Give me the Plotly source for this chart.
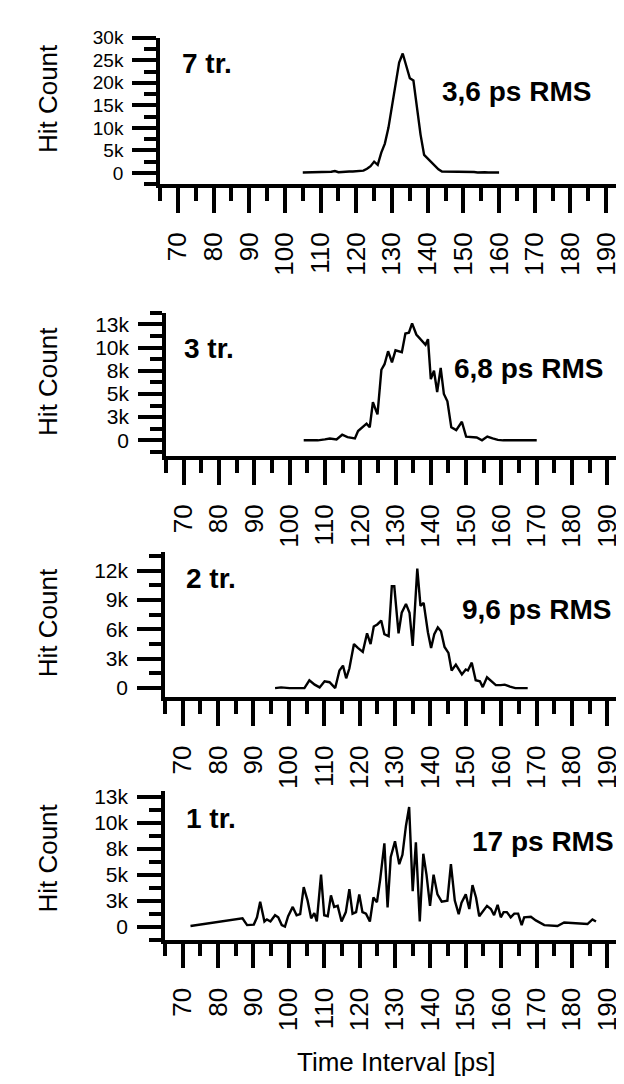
import plotly.graph_objects as go

# ---------------- data ----------------
x_ticks = [70, 80, 90, 100, 110, 120, 130, 140, 150, 160, 170, 180, 190]
x_tick_labels = ["70", "80", "90", "100", "110", "120", "130", "140", "150", "160", "170", "180", "190"]

panel_labels = ["7 tr.", "3 tr.", "2 tr.", "1 tr."]
rms_labels = ["3,6 ps RMS", "6,8 ps RMS", "9,6 ps RMS", "17 ps RMS"]

# 7 tr.
t7 = [105, 106, 107, 108, 109, 110, 111, 112, 113, 114, 115, 116, 117, 118, 119, 120,
      121, 122, 123, 124, 125, 126, 127, 128, 129, 130, 131, 132, 133, 134, 135, 136,
      137, 138, 139, 140, 141, 142, 143, 144, 145, 146, 147, 148, 149, 150, 151, 152,
      153, 154, 155, 156, 157, 158, 159, 160]
c7 = [100, 100, 100, 100, 120, 150, 150, 200, 250, 400, 150, 200, 300, 300, 300, 350,
      400, 500, 900, 1500, 2500, 1800, 4500, 6500, 10000, 15000, 20000, 24500, 26500, 24000, 21000, 20500,
      14000, 8500, 4000, 3200, 2200, 1500, 800, 300, 300, 250, 300, 250, 200, 250, 200, 150,
      200, 100, 200, 150, 100, 150, 100, 100]

# 3 tr.
t3 = [104, 106, 108, 110, 111.4, 113.3, 114.9, 116.4, 118.5, 119.4, 120.8, 121.8, 122.7, 123.6,
      124.9, 126, 126.9, 127.9, 129, 130, 131.8, 132.8, 133.8, 134.7, 135.9, 137.3, 138.5, 139.2,
      140, 140.9, 141.8, 142.8, 143.7, 144.7, 145.8, 147.2, 148.8, 150, 151.5, 153, 154.5, 156,
      157.5, 159, 160.5, 162, 164, 166, 168, 170]
c3 = [0, 0, 0, 100, 200, 100, 600, 350, 200, 1000, 1500, 1800, 1400, 4100,
      2800, 7600, 8200, 9600, 8400, 9700, 9500, 11500, 11600, 12600, 11400, 10800, 10300, 10900,
      6600, 7500, 5200, 7800, 5000, 4200, 1400, 1100, 2000, 400, 350, 300, 0, 400,
      200, 50, 0, 0, 0, 0, 0, 0]

# 2 tr.
t2 = [96.1, 97.8, 100.2, 104.4, 105.8, 107.3, 108.7, 110.1, 111.5, 113.1, 114.3, 115.3, 116.2,
      117.1, 118.4, 119.5, 120.9, 122.1, 123.1, 124, 125, 126.1, 127, 128.2, 129.1, 129.8, 131,
      131.9, 133.1, 134.1, 135, 136.3, 137.2, 138.1, 139.3, 140.2, 141.1, 142.1, 143, 144, 145.1,
      146, 147.2, 148.9, 150, 150.6, 151.7, 152.8, 154, 154.8, 156, 157.4, 158.5, 159.9, 161,
      162.5, 164, 167.5]
c2 = [0, 70, 0, 0, 800, 350, 70, 700, 600, 0, 1800, 2300, 1000,
      2000, 4500, 4100, 3700, 5600, 4500, 6300, 6500, 6900, 5500, 5300, 10400, 10400, 5600,
      7700, 8600, 7700, 4300, 12200, 8400, 8700, 5700, 4100, 5500, 6200, 5800, 4200, 3600,
      1800, 2400, 1400, 1900, 1800, 2600, 800, 700, 100, 1100, 600, 300, 300, 350,
      150, 0, 0]

# 1 tr.
t1 = [72.2, 86.9, 88.2, 90.1, 91, 91.9, 93.1, 93.8, 94.8, 96.1, 97, 98, 98.9, 99.8, 101.1,
      102.2, 103.2, 104.2, 105.3, 106.3, 107.2, 107.9, 109.1, 110, 111, 111.9, 112.8, 113.8,
      114.9, 116.1, 117.1, 118, 119, 119.9, 120.8, 121.8, 122.9, 123.9, 124.9, 125.8, 127,
      127.9, 128.8, 130, 131.2, 132.1, 133.1, 134, 135, 135.9, 137, 138, 138.9, 139.9, 140.9,
      142, 143.2, 144.8, 145.8, 146.9, 148, 148.8, 150, 151, 151.9, 152.9, 153.8, 154.7, 156,
      157.1, 158, 159, 159.9, 160.7, 161.6, 162.7, 163.7, 164.8, 165.8, 166.5, 168.4, 169.8,
      172.2, 175.9, 177.8, 184.4, 185.8, 186.8]
c1 = [60, 800, 150, 200, 900, 2400, 500, 700, 500, 1100, 900, 150, 0, 1000, 1900,
      1100, 1200, 3800, 2500, 800, 1300, 500, 5000, 1100, 1000, 3000, 1900, 2000,
      500, 1400, 3600, 1250, 1400, 3100, 1400, 1250, 500, 2800, 2350, 4500, 8000,
      1850, 6700, 8200, 6000, 6900, 9700, 11500, 3400, 8100, 500, 7000, 5000, 2000, 5000,
      3100, 2400, 2500, 6000, 2500, 1200, 2300, 3100, 1700, 4000, 2800, 1000, 1400, 2000,
      1700, 1100, 2100, 900, 1400, 1400, 900, 1250, 1250, 150, 900, 950, 600,
      150, 60, 400, 250, 700, 500]

y_vals_1 = [0, 5000, 10000, 15000, 20000, 25000, 30000]
y_text_1 = ["0", "5k", "10k", "15k", "20k", "25k", "30k"]
y_vals_2 = [0, 2500, 5000, 7500, 10000, 12500]
y_text_2 = ["0", "3k", "5k", "8k", "10k", "13k"]
y_vals_3 = [0, 3000, 6000, 9000, 12000]
y_text_3 = ["0", "3k", "6k", "9k", "12k"]

series = [(t7, c7), (t3, c3), (t2, c2), (t1, c1)]
yticks = [(y_vals_1, y_text_1, 2500), (y_vals_2, y_text_2, 1250),
          (y_vals_3, y_text_3, 1500), (y_vals_2, y_text_2, 1250)]
y_ranges = [[-2500, 30000], [-1700, 13750], [-950, 13900], [-1250, 13000]]

# ---------------- layout geometry (pixels) ----------------
W, H = 624, 1084
px_x = [(152, 616), (158, 617), (157, 617), (157, 617)]
px_y = [(20, 168), (298, 443), (540, 687), (782, 932)]
lab_pos = [(172, 46), (174, 334), (176, 567), (176, 809)]
rms_pos = [(432, 74), (444, 354), (452, 598), (462, 833)]
ytitle_y = [82, 368, 612, 850]
ytick_size = [19, 21, 21, 21]

FONT = "Liberation Sans, Arial, Helvetica, sans-serif"

fig = go.Figure()
annotations = []
for i, ((tx, cy), (yv, yt, ymin), yr) in enumerate(zip(series, yticks, y_ranges)):
    n = i + 1
    xa = "x" if n == 1 else f"x{n}"
    ya = "y" if n == 1 else f"y{n}"
    fig.add_trace(go.Scatter(x=tx, y=cy, mode="lines", xaxis=xa, yaxis=ya,
                             line=dict(color="black", width=2.4), showlegend=False,
                             hoverinfo="skip"))
    x0, x1 = px_x[i]
    ytop, ybot = px_y[i]
    fig.layout[f"xaxis{'' if n == 1 else n}"] = dict(
        domain=[x0 / W, x1 / W], anchor=ya, range=[65, 195],
        showline=True, linewidth=3.5, linecolor="black", showgrid=False, zeroline=False,
        ticks="outside", ticklen=25, tickwidth=3.5, tickcolor="black",
        tickmode="array", tickvals=x_ticks, ticktext=x_tick_labels, tickangle=-90,
        tickfont=dict(family=FONT, size=26, color="black"), ticklabelstandoff=9,
        minor=dict(ticks="outside", ticklen=13, tickwidth=3.5, tickcolor="black",
                   tickmode="linear", tick0=65, dtick=10, showgrid=False),
    )
    fig.layout[f"yaxis{'' if n == 1 else n}"] = dict(
        domain=[1 - ybot / H, 1 - ytop / H], anchor=xa, range=yr,
        showline=True, linewidth=3.5, linecolor="black", showgrid=False, zeroline=False,
        ticks="outside", ticklen=24, tickwidth=3.5, tickcolor="black",
        tickmode="array", tickvals=yv, ticktext=yt,
        tickfont=dict(family=FONT, size=ytick_size[i], color="black"), ticklabelstandoff=5,
        minor=dict(ticks="outside", ticklen=12, tickwidth=3.5, tickcolor="black",
                   tickmode="linear", tick0=0, dtick=ymin, showgrid=False),
    )
    lx, ly = lab_pos[i]
    annotations.append(dict(text=f"<b>{panel_labels[i]}</b>", x=lx / W, y=1 - ly / H,
                            xref="paper", yref="paper", xanchor="left", yanchor="middle",
                            showarrow=False, font=dict(family=FONT, size=28, color="black")))
    rx, ry = rms_pos[i]
    annotations.append(dict(text=f"<b>{rms_labels[i]}</b>", x=rx / W, y=1 - ry / H,
                            xref="paper", yref="paper", xanchor="left", yanchor="middle",
                            showarrow=False, font=dict(family=FONT, size=28, color="black")))
    annotations.append(dict(text="Hit Count", x=40 / W, y=1 - ytitle_y[i] / H,
                            xref="paper", yref="paper", xanchor="center", yanchor="middle",
                            textangle=-90, showarrow=False,
                            font=dict(family=FONT, size=26, color="black")))

annotations.append(dict(text="Time Interval [ps]", x=388 / W, y=1 - 1056 / H,
                        xref="paper", yref="paper", xanchor="center", yanchor="middle",
                        showarrow=False, font=dict(family=FONT, size=26, color="black")))

fig.update_layout(width=W, height=H, margin=dict(l=0, r=0, t=0, b=0),
                  paper_bgcolor="white", plot_bgcolor="white",
                  annotations=annotations, showlegend=False)

fig.write_html("out.html")
